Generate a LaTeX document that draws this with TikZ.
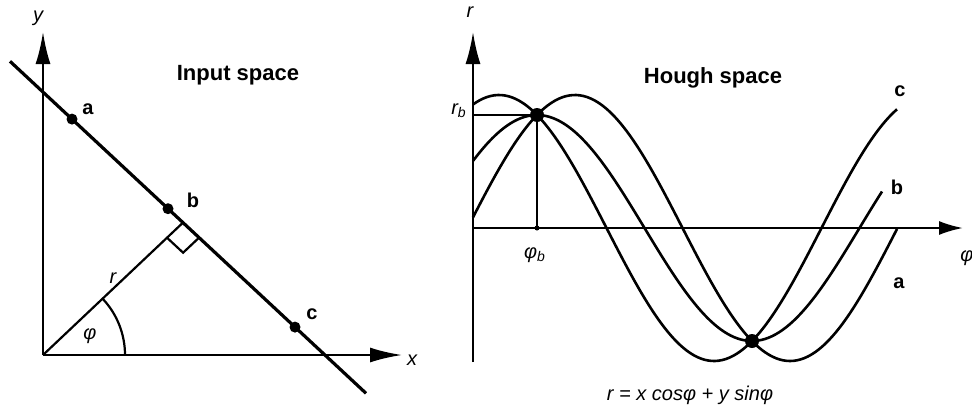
\documentclass[tikz,border=0pt]{standalone}
\usepackage{fontspec}
\setmainfont{Liberation Sans}
\usetikzlibrary{arrows.meta, calc}

\tikzset{
  axe/.style={line width=1.1pt, -{Latex[length=16pt, width=7.5pt]}},
  courbe/.style={line width=1.3pt},
  pointnoir/.style={circle, fill=black, inner sep=0pt, minimum size=5.5pt},
  titre/.style={font=\fontsize{11}{13}\selectfont\bfseries},
  lettre/.style={font=\fontsize{10}{12}\selectfont\bfseries},
  var/.style={font=\fontsize{10}{12}\selectfont\itshape},
}

\begin{document}
\begin{tikzpicture}[x=0.5pt, y=-0.5pt]
    \useasboundingbox (0,0) rectangle (972,407);
    % espace d'entree : axes
    \coordinate (O) at (43,355);
    \draw[axe] (O) -- (43,32);
    \draw[axe] (O) -- (402,355);
    \node[var] (ylab) at (38,18) {y};
    \node[var] (xlab) at (412,360) {x};
    % droite et points a, b, c
    \coordinate (L1) at (10,61.3);
    \coordinate (L2) at (366,393.3);
    \draw[line width=1.6pt] (L1) -- (L2);
    \node[pointnoir] (pa) at (72,119.1) {};
    \node[pointnoir] (pb) at (168,208.7) {};
    \node[pointnoir] (pc) at (295,327.1) {};
    \node[lettre] (la) at (88,109) {a};
    \node[lettre] (lb) at (193,200) {b};
    \node[lettre] (lc) at (312,314) {c};
    % normale r et angle droit
    \coordinate (F) at (183,222.6);
    \draw[line width=1.1pt] (O) -- (F);
    \draw[line width=1.1pt] ($(F)+(16.1,15)$) -- ($(F)+(0.1,30.1)$) -- ($(F)+(-16,15.1)$);
    \draw[line width=1.1pt] (125,355) arc[start angle=0, end angle=-43.4, radius=82];
    \node[var] (rlab) at (113,278) {r};
    \node[var] (philab) at (90,336) {φ};
    \node[titre] (t1) at (238,75) {Input space};

    % espace de Hough : axes
    \coordinate (H) at (473,228);
    \draw[axe] (473,362) -- (473,32);
    \draw[axe, -{Latex[length=12pt, width=7pt]}] (H) -- (963,228);
    \node[var] (rax) at (470,12) {r};
    \node[var] (phiax) at (967,258) {φ};
    % sinusoides
    \draw[courbe] plot[domain=473:897, samples=120, smooth] (\x, {228-133*cos((\x-499)*0.83721)}); % c
    \draw[courbe] plot[domain=473:882, samples=120, smooth] (\x, {228-113*cos((\x-537)*0.83721)}); % b
    \draw[courbe] plot[domain=473:897, samples=120, smooth] (\x, {228-133*cos((\x-575)*0.83721)}); % a
    \node[pointnoir, minimum size=7pt] (X1) at (537,115) {};
    \node[pointnoir, minimum size=7pt] (X2) at (752,341) {};
    % projections de l'intersection
    \coordinate (rb) at (473,115);
    \coordinate (phib) at (537,228);
    \draw[line width=0.7pt] (rb) -- (X1.center) -- (phib);
    \fill (phib) circle (2.5);
    \node[var] (rblab) at (459,111) {r\textsubscript{b}};
    \node[var] (phiblab) at (535,255) {φ\textsubscript{b}};
    \node[lettre] (hc) at (900,91) {c};
    \node[lettre] (hb) at (897,187) {b};
    \node[lettre] (ha) at (899,283) {a};
    \node[titre] (t2) at (713,78) {Hough space};
    \node[var] (eq) at (690,395) {r = x cosφ + y sinφ};
\end{tikzpicture}
\end{document}
